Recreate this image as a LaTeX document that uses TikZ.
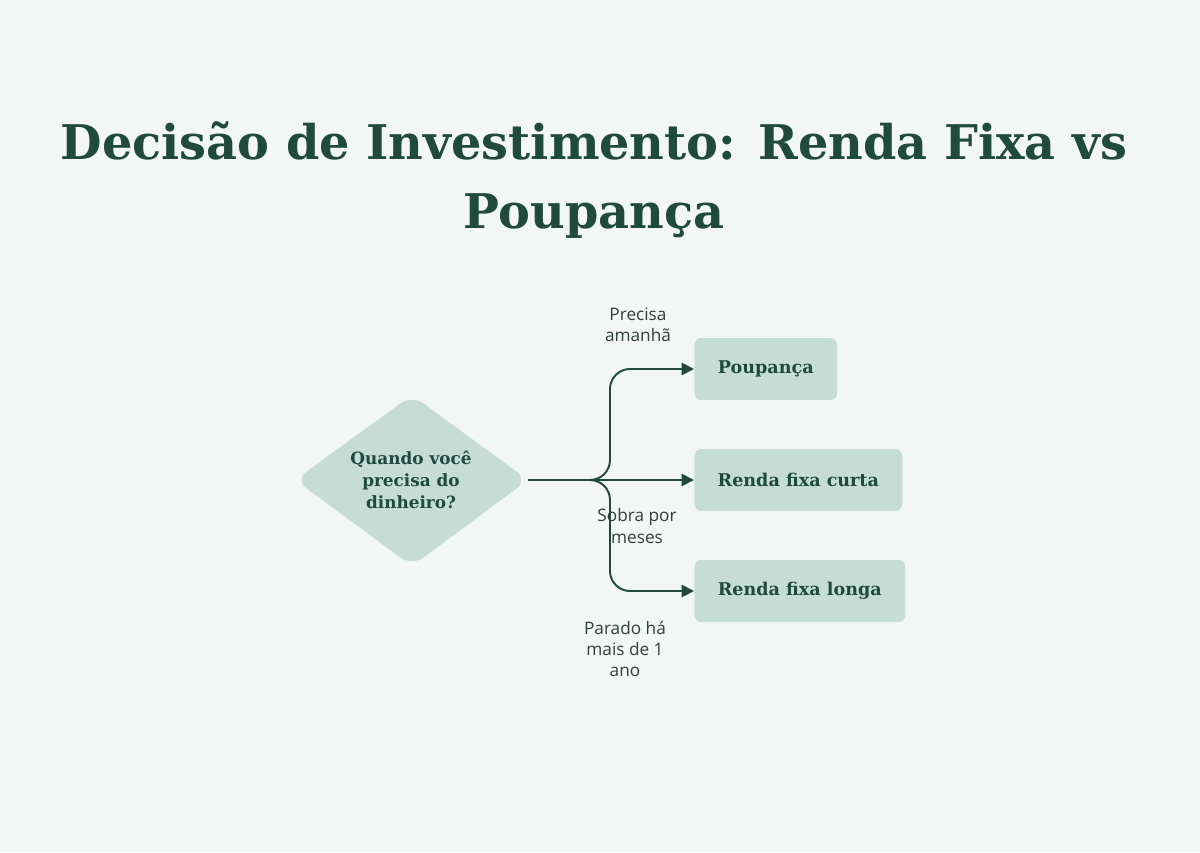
\documentclass[tikz,border=0pt]{standalone}
\usepackage{fontspec}
\setmainfont{DejaVu Serif}
\setsansfont{Open Sans}
\usetikzlibrary{arrows.meta, positioning, calc}
\definecolor{bgcol}{HTML}{F2F7F5}
\definecolor{ink}{HTML}{1F4A3D}
\definecolor{boxfill}{HTML}{C5DDD5}
\definecolor{lblcol}{HTML}{2F3F3B}
\tikzset{
  box/.style={fill=boxfill, rounded corners=4pt, minimum height=1.24cm, anchor=west,
    inner xsep=0.46cm, font=\bfseries\fontsize{10}{12}\selectfont, text=ink},
  edge/.style={draw=ink, line width=1.1pt, rounded corners=0.4cm, -{Triangle[length=7pt,width=7pt]}},
  lbl/.style={font=\sffamily\fontsize{9.8}{12.2}\selectfont, text=lblcol, align=center},
}
\begin{document}
\begin{tikzpicture}[x=0.02cm, y=-0.02cm]
  \useasboundingbox[fill=bgcol] (0,0) rectangle (1200,852);

  % title
  \node[font=\bfseries\fontsize{27.2}{39.7}\selectfont, text=ink, align=center] (title) at (594,180)
    {Decisão de Investimento: Renda Fixa vs\\Poupança};

  % decision
  \fill[boxfill, rounded corners=8pt] (295,480) -- (412,395) -- (528,480) -- (412,566) -- cycle;
  \node[font=\bfseries\fontsize{9.6}{12.6}\selectfont, text=ink, align=center] (q) at (411,480)
    {Quando você\\precisa do\\dinheiro?};
  \coordinate (qe) at (528,480);
  \coordinate (fork) at (610,480);

  % outcomes
  \node[box, minimum width=2.86cm] (poup) at (694,369) {Poupança};
  \node[box, minimum width=4.16cm] (curta) at (694,480) {Renda fixa curta};
  \node[box, minimum width=4.22cm] (longa) at (694,591) {Renda fixa longa};

  % edges
  \draw[edge] (qe) -- (fork) |- (poup.west);
  \draw[edge] (qe) -- (curta.west);
  \draw[edge] (qe) -- (fork) |- (longa.west);

  % labels
  \node[lbl] (l1) at (638,325) {Precisa\\amanhã};
  \node[lbl] (l2) at (637,526) {Sobra por\\meses};
  \node[lbl] (l3) at (625,649) {Parado há\\mais de 1\\ano};
\end{tikzpicture}
\end{document}
